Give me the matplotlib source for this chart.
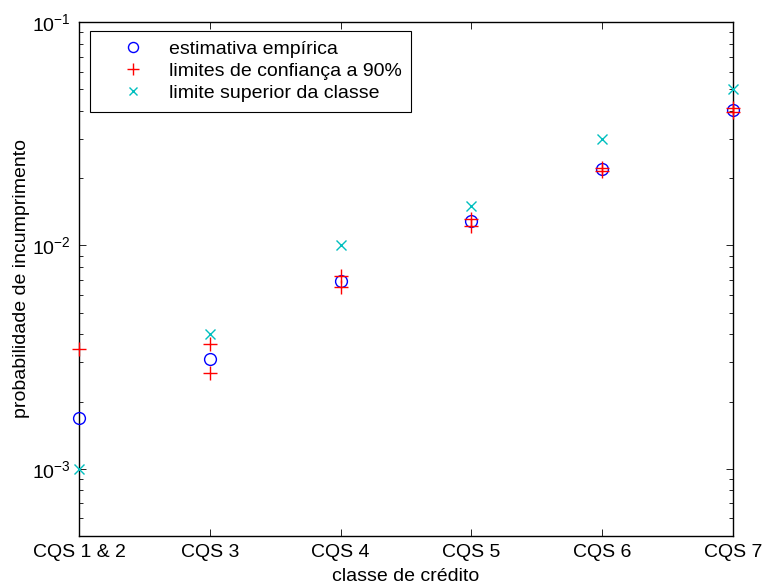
import matplotlib
matplotlib.use("Agg")
import matplotlib.pyplot as plt
import numpy as np
from matplotlib.ticker import LogLocator, NullFormatter

plt.rcParams['font.family'] = ['Liberation Sans', 'DejaVu Sans']
plt.rcParams['mathtext.default'] = 'regular'

categories = ['CQS 1 & 2', 'CQS 3', 'CQS 4', 'CQS 5', 'CQS 6', 'CQS 7']
empirical = [1.69e-3, 3.11e-3, 6.9e-3, 1.28e-2, 2.19e-2, 4.03e-2]
conf_upper = [3.45e-3, 3.6e-3, 7.26e-3, 1.31e-2, 2.22e-2, 4.1e-2]
conf_lower = [np.nan, 2.67e-3, 6.49e-3, 1.22e-2, 2.15e-2, 3.95e-2]
class_upper = [1e-3, 4e-3, 1e-2, 1.5e-2, 3e-2, 5e-2]

x = np.arange(1, len(categories) + 1)
FS = 14

fig = plt.figure(figsize=(7.65, 5.86), dpi=100)
ax = fig.add_axes([0.1033, 0.0853, 0.8549, 0.8772])

cyan = (0.0, 0.75, 0.75)
ax.plot(x, empirical, linestyle='none', marker='o', mfc='none', mec='blue',
        ms=8.5, mew=1.0, label='estimativa empírica', clip_on=False, zorder=3)
ax.plot(x, conf_upper, linestyle='none', marker='+', color='red',
        ms=10, mew=1.0, label='limites de confiança a 90%', clip_on=False, zorder=4)
ax.plot(x, conf_lower, linestyle='none', marker='+', color='red',
        ms=10, mew=1.0, clip_on=False, zorder=4)
ax.plot(x, class_upper, linestyle='none', marker='x', color=cyan,
        ms=7, mew=1.0, label='limite superior da classe', clip_on=False, zorder=3)

ax.set_yscale('log')
ax.set_ylim(5e-4, 1e-1)
ax.set_xlim(1, 6)
ax.set_xticks(x)
ax.set_xticklabels(categories)
ax.yaxis.set_major_locator(LogLocator(base=10, numticks=10))
ax.yaxis.set_minor_locator(LogLocator(base=10, subs=np.arange(2, 10), numticks=20))
ax.yaxis.set_minor_formatter(NullFormatter())

ax.tick_params(which='both', direction='in', top=True, right=True, labelsize=FS)
ax.tick_params(which='major', length=5, width=0.6)
ax.tick_params(which='minor', length=3, width=0.6)
ax.tick_params(axis='x', pad=6)
ax.tick_params(axis='y', pad=6)
for s in ax.spines.values():
    s.set_linewidth(1.0)

ax.set_xlabel('classe de crédito', fontsize=FS, labelpad=5)
ax.set_ylabel('probabilidade de incumprimento', fontsize=FS, labelpad=1)

leg = ax.legend(loc='upper left', bbox_to_anchor=(0.0168, 0.9825), borderaxespad=0,
                fancybox=False, edgecolor='black', framealpha=1, fontsize=FS,
                handlelength=3.4, handletextpad=0.15, labelspacing=0.22,
                borderpad=0.5, markerscale=0.85)
leg.get_frame().set_linewidth(0.8)

fig.savefig('out.png', dpi=100)
